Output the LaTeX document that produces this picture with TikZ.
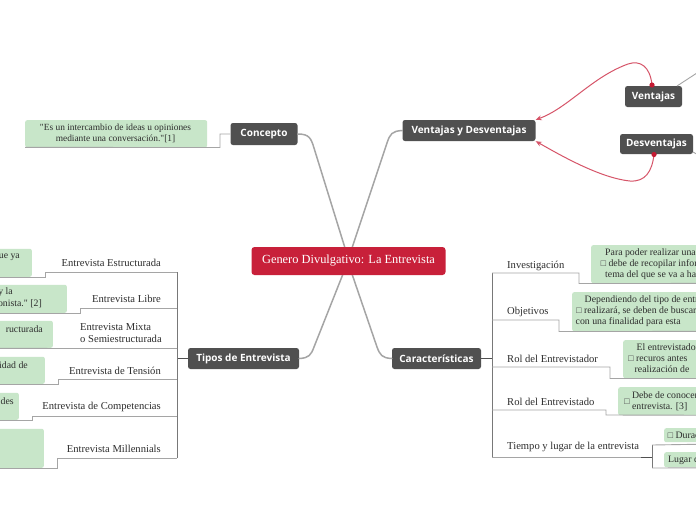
\documentclass[tikz,border=0pt]{standalone}
\usepackage{fontspec}
\setmainfont{Liberation Serif}
\newfontfamily\topicfont{Open Sans}
\newfontfamily\handfont{Liberation Serif}
\newfontfamily\symfont{DejaVu Sans}
\usetikzlibrary{arrows.meta}
\definecolor{topicgray}{RGB}{80,80,80}
\definecolor{rootred}{RGB}{200,32,58}
\definecolor{leafgreen}{RGB}{200,230,201}
\definecolor{linegray}{RGB}{165,165,165}
\definecolor{branchgray}{RGB}{120,120,120}
\definecolor{arrowred}{RGB}{214,84,104}
\definecolor{dotred}{RGB}{196,26,50}
\definecolor{txt}{RGB}{45,45,45}
\newcommand{\cbx}{{\symfont\fontsize{7.5}{7.5}\selectfont\color{txt!80}☐}\,}
\tikzset{
  topic/.style={fill=topicgray, text=white, rounded corners=2.5pt, inner sep=0pt,
    font=\topicfont\bfseries\fontsize{10}{12}\selectfont},
  root/.style={fill=rootred, text=white, rounded corners=3pt, inner sep=0pt,
    font=\handfont\fontsize{12.4}{14}\selectfont},
  leafbox/.style={fill=leafgreen, rounded corners=2pt, inner sep=0pt},
  leaftext/.style={text=txt, inner sep=0pt, align=left,
    font=\handfont\fontsize{9.8}{11.2}\selectfont},
  label/.style={text=txt, inner sep=0pt, align=left,
    font=\handfont\fontsize{10.6}{12}\selectfont},
  mainline/.style={draw=linegray, line width=1.5pt, line cap=round},
  branch/.style={draw=branchgray, line width=0.8pt},
  stub/.style={draw=topicgray, line width=1.2pt},
  uline/.style={draw=linegray, line width=0.9pt},
  redarrow/.style={draw=arrowred, line width=1pt, -{Stealth[length=6pt,width=5pt]}},
  reddot/.style={fill=dotred, draw=none}
}
\begin{document}
\begin{tikzpicture}[x=1pt,y=-1pt]
\useasboundingbox (0,0) rectangle (696,520);
\clip (0,0) rectangle (696,520);
\fill[white] (0,0) rectangle (696,520);

% ---------- main topics ----------
\coordinate (ctl) at (345,248);
\coordinate (ctr) at (352,248);
\coordinate (cbl) at (343,274);
\coordinate (cbr) at (352,274);
\node[topic, minimum width=67pt, minimum height=22pt] (concepto) at (264,134) {Concepto};
\node[topic, minimum width=133pt, minimum height=21pt] (vd) at (469,130.5) {Ventajas y Desventajas};
\node[topic, minimum width=111pt, minimum height=21pt] (tipos) at (243.5,358.5) {Tipos de Entrevista};
\node[topic, minimum width=89pt, minimum height=21pt] (caract) at (436.5,358.5) {Características};
\node[topic, minimum width=57pt, minimum height=21pt] (ventajas) at (653.5,96.5) {Ventajas};
\node[topic, minimum width=73pt, minimum height=20pt] (desventajas) at (656.5,144) {Desventajas};

\draw[mainline] (concepto.east) .. controls (309,134) and (311,138) .. (314,148) -- (ctl);
\draw[mainline] (vd.west) .. controls (392,131) and (390,134) .. (387,143) -- (ctr);
\draw[mainline] (tipos.east) .. controls (309,358) and (311,355) .. (314,347) -- (cbl);
\draw[mainline] (caract.west) .. controls (382,358) and (380,355) .. (377,347) -- (cbr);
\node[root, minimum width=194pt, minimum height=28pt] (central) at (348.5,261) {Genero Divulgativo: La Entrevista};

% ---------- Concepto leaf ----------
\node[leafbox, anchor=north west, minimum width=182pt, minimum height=27pt] (cleaf) at (25,120) {};
\node[leaftext, align=center, font=\handfont\fontsize{9.4}{11}\selectfont] (cleaftext) at (115.5,133) {"Es un intercambio de ideas u opiniones\\mediante una conversación."[1]};
\draw[uline] (concepto.west) -- (220,134) -- (220,147.5) -- (cleaf.south west);

% ---------- Ventajas y Desventajas ----------
\coordinate (vout) at (700,71);
\coordinate (dout) at (700,156);
\draw[uline] (677,86) -- (vout);
\draw[uline] (693,152) -- (dout);
\coordinate (va) at (652,85);
\coordinate (da) at (654,154.5);
\draw[redarrow] (va) .. controls (650,66) and (640,60) .. (628,64) .. controls (592,77) and (568,108) .. (vd.north east);
\draw[redarrow] (da) .. controls (652,172) and (645,182) .. (630,181) .. controls (600,178) and (560,155) .. (vd.south east);
\fill[reddot] (va) circle (2.6pt);
\fill[reddot] (da) circle (2.6pt);

% ---------- Tipos de Entrevista ----------
\coordinate (tv1) at (177,272);
\coordinate (tv2) at (177,458);
\draw[stub] (tipos.west) -- (177,358.5);
\draw[branch] (tv1) -- (tv2);

\node[leafbox, anchor=south east, minimum width=150pt, minimum height=28pt] (l1) at (32,277) {};
\node[leafbox, anchor=south east, minimum width=150pt, minimum height=28pt] (l2) at (67,313) {};
\node[leafbox, anchor=south east, minimum width=150pt, minimum height=27pt] (l3) at (53,348) {};
\node[leafbox, anchor=south east, minimum width=150pt, minimum height=27pt] (l4) at (45,384) {};
\node[leafbox, anchor=south east, minimum width=150pt, minimum height=27pt] (l5) at (19,420) {};
\node[leafbox, anchor=south east, minimum width=150pt, minimum height=39pt] (l6) at (44,468) {};

\node[leaftext, anchor=east] (l1t) at (20,257) {que ya};
\node[leaftext, anchor=east] (l2t) at (13,292) {y la};
\node[leaftext, anchor=east] (l2u) at (42,303.5) {onista." [2]};
\node[leaftext, anchor=east] (l3t) at (43,329) {ructurada};
\node[leaftext, anchor=east] (l4t) at (28,365) {idad de};
\node[leaftext, anchor=east] (l5t) at (14,401.5) {des};

\node[label, anchor=east] (t1) at (161,263) {Entrevista Estructurada};
\node[label, anchor=east] (t2) at (161,299) {Entrevista Libre};
\node[label, anchor=north west] (t3) at (80,323.5) {Entrevista Mixta\\o Semiestructurada};
\node[label, anchor=east] (t4) at (161,371) {Entrevista de Tensión};
\node[label, anchor=east] (t5) at (161,407) {Entrevista de Competencias};
\node[label, anchor=east] (t6) at (161,449) {Entrevista Millennials};

\draw[uline] (tv1) -- (45,272) -- (45,277) -- (l1.south west);
\draw[uline] (177,308) -- (80,308) -- (80,313) -- (l2.south west);
\draw[uline] (177,348.5) -- (66,348.5) -- (l3.south west);
\draw[uline] (177,379) -- (58,379) -- (58,384) -- (l4.south west);
\draw[uline] (177,416) -- (32,416) -- (32,420) -- (l5.south west);
\draw[uline] (tv2) -- (57,458) -- (57,468) -- (l6.south west);

% ---------- Caracteristicas ----------
\coordinate (cv1) at (492,273);
\coordinate (cv2) at (492,457);
\draw[stub] (caract.east) -- (492,358.5);
\draw[branch] (cv1) -- (cv2);

\node[leafbox, anchor=north west, minimum width=150pt, minimum height=38pt] (r1) at (591,245) {};
\node[leafbox, anchor=north west, minimum width=150pt, minimum height=39pt] (r2) at (572,292) {};
\node[leafbox, anchor=north west, minimum width=150pt, minimum height=38pt] (r3) at (623,340) {};
\node[leafbox, anchor=north west, minimum width=150pt, minimum height=28pt] (r4) at (618,387) {};
\node[leafbox, anchor=north west, minimum width=150pt, minimum height=14pt] (r5a) at (664,428) {};
\node[leafbox, anchor=north west, minimum width=150pt, minimum height=15pt] (r5b) at (664,452) {};

\node[leaftext, anchor=north west] (r1t) at (600,248) {\hspace*{5pt}Para poder realizar una\\\cbx debe de recopilar información\\\hspace*{5pt}tema del que se va a hablar};
\node[leaftext, anchor=north west] (r2t) at (575.5,295.5) {\hspace*{9pt}Dependiendo del tipo de entrevista\\\cbx realizará, se deben de buscar\\con una finalidad para esta};
\node[leaftext, anchor=north west] (r3t) at (627.5,343) {\hspace*{9pt}El entrevistador\\\cbx recuros antes\\\hspace*{7pt}realización de};
\node[leaftext, anchor=north west] (r4t) at (623.5,390.5) {\cbx\begin{tabular}{@{}l@{}}Debe de conocer\\entrevista. [3]\end{tabular}};
\node[leaftext, anchor=west] (r5at) at (667,435) {\cbx Duración};
\node[leaftext, anchor=west] (r5bt) at (668,460) {Lugar de};

\node[label, anchor=west] (c1) at (507,266) {Investigación};
\node[label, anchor=west] (c2) at (507,312) {Objetivos};
\node[label, anchor=west] (c3) at (507,359) {Rol del Entrevistador};
\node[label, anchor=west] (c4) at (507,402) {Rol del Entrevistado};
\node[label, anchor=west] (c5) at (507,447) {Tiempo y lugar de la entrevista};

\draw[uline] (cv1) -- (579,273) -- (579,283.5) -- (r1.south east);
\draw[uline] (492,320) -- (559,320) -- (559,331.5) -- (r2.south east);
\draw[uline] (492,367) -- (610,367) -- (610,378.5) -- (r3.south east);
\draw[uline] (492,410) -- (606,410) -- (606,415) -- (r4.south east);
\draw[uline] (cv2) -- (641,457);
\draw[stub, line width=1pt] (641,457) -- (652,457);
\draw[branch] (652,445) -- (652,468);
\draw[uline] (652,445) -- (r5a.south east);
\draw[uline] (652,468) -- (r5b.south east);
\end{tikzpicture}
\end{document}
